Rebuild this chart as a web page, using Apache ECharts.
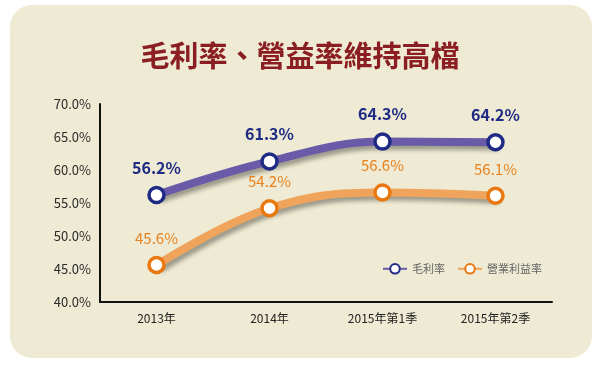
<!DOCTYPE html>
<html><head><meta charset="utf-8">
<script src="https://cdn.jsdelivr.net/npm/echarts@6/dist/echarts.min.js"></script>
<style>html,body{margin:0;padding:0;background:#fff}#c{width:600px;height:365px}</style>
</head><body><div id="c"></div>
<script>
const title = '毛利率、營益率維持高檔';
const categories = ['2013年', '2014年', '2015年第1季', '2015年第2季'];
const grossMargin = [56.2, 61.3, 64.3, 64.2];
const operatingMargin = [45.6, 54.2, 56.6, 56.1];
const seriesNames = ['毛利率', '營業利益率'];

const chart = echarts.init(document.getElementById('c'));
const font = '"Noto Sans CJK TC", "Noto Sans", sans-serif';
chart.setOption({
  backgroundColor: '#ffffff',
  animation: false,
  graphic: [{
    type: 'rect', z: -10, silent: true,
    shape: { x: 10, y: 5, width: 582, height: 353, r: 22 },
    style: { fill: '#EEEAD3' }
  }],
  title: {
    text: title, left: 'center', top: 36,
    textStyle: { color: '#8B1E22', fontSize: 29, fontWeight: 'bold', fontFamily: font }
  },
  legend: {
    left: 377, top: 258, itemWidth: 24, itemHeight: 12, itemGap: 12,
    textStyle: { color: '#666', fontSize: 11, fontFamily: font },
    data: seriesNames
  },
  grid: { left: 100, right: 48, top: 104, bottom: 63 },
  xAxis: {
    type: 'category', data: categories, boundaryGap: true,
    axisLine: { lineStyle: { color: '#111', width: 2 } },
    axisTick: { show: false },
    axisLabel: { color: '#222', fontSize: 12, margin: 10, fontFamily: font }
  },
  yAxis: {
    type: 'value', min: 40, max: 70, interval: 5,
    axisLine: { show: true, lineStyle: { color: '#111', width: 2 } },
    axisTick: { show: false },
    splitLine: { show: false },
    axisLabel: { color: '#2a2a2a', fontSize: 13, margin: 9, fontFamily: font,
      formatter: v => v.toFixed(1) + '%' }
  },
  series: [{
    name: seriesNames[0], type: 'line', smooth: 0.4, data: grossMargin,
    symbol: 'circle', symbolSize: 15,
    lineStyle: { color: '#6A5BA8', width: 8, shadowColor: 'rgba(0,0,0,0.35)', shadowBlur: 4, shadowOffsetX: 3, shadowOffsetY: 4 },
    itemStyle: { color: '#ffffff', borderColor: '#1F2A85', borderWidth: 3.5 },
    label: { show: true, position: 'top', distance: 10, color: '#1F2A85', fontSize: 16, fontWeight: 'bold', fontFamily: font,
      formatter: p => p.value.toFixed(1) + '%' }
  }, {
    name: seriesNames[1], type: 'line', smooth: 0.4, data: operatingMargin,
    symbol: 'circle', symbolSize: 15,
    lineStyle: { color: '#F0A35A', width: 8, shadowColor: 'rgba(0,0,0,0.35)', shadowBlur: 4, shadowOffsetX: 3, shadowOffsetY: 4 },
    itemStyle: { color: '#ffffff', borderColor: '#E8780F', borderWidth: 3.5 },
    label: { show: true, position: 'top', distance: 10, color: '#E8821E', fontSize: 15, fontFamily: font,
      formatter: p => p.value.toFixed(1) + '%' }
  }]
});
</script></body></html>
